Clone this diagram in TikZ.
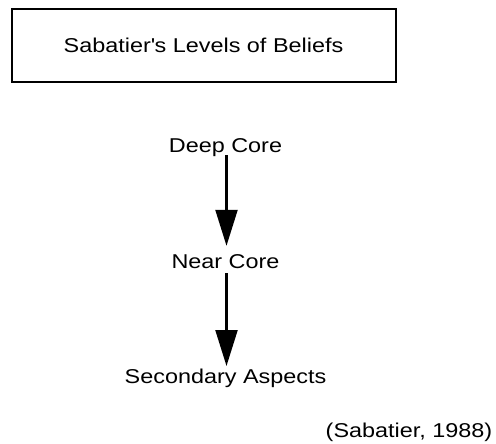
\documentclass[tikz,border=0pt]{standalone}
\usepackage{fontspec}
\setmainfont{Liberation Sans}[FakeStretch=1.17]
\usetikzlibrary{arrows.meta}

\begin{document}
\begin{tikzpicture}[x=1pt,y=-1pt,>={Triangle[length=36pt,width=22pt]},line width=2.2pt]
            \useasboundingbox (0,0) rectangle (496,444);
            \node (title) [draw,line width=2pt,minimum width=384pt,minimum height=72.5pt,font=\fontsize{20}{24}\selectfont] at (203.5,45.75) {Sabatier\textquotesingle s Levels of Beliefs};
            \begin{scope}[every node/.style={anchor=base,inner sep=0pt,font=\fontsize{20}{24}\selectfont}]
                \node (deep) at (225.5,152.7) {Deep Core};
                \node (near) at (225.5,268.3) {Near Core};
                \node (second) at (225.5,383.3) {Secondary Aspects};
                \node (cite) at (409,437.5) {(Sabatier, 1988)};
            \end{scope}
            \draw ([xshift=1pt,yshift=-2.3pt]deep.base) edge [->] ([xshift=1pt,yshift=22.5pt]near.base);
            \draw ([xshift=1pt,yshift=-4.7pt]near.base) edge [->] ([xshift=1pt,yshift=17.3pt]second.base);
\end{tikzpicture}
\end{document}
